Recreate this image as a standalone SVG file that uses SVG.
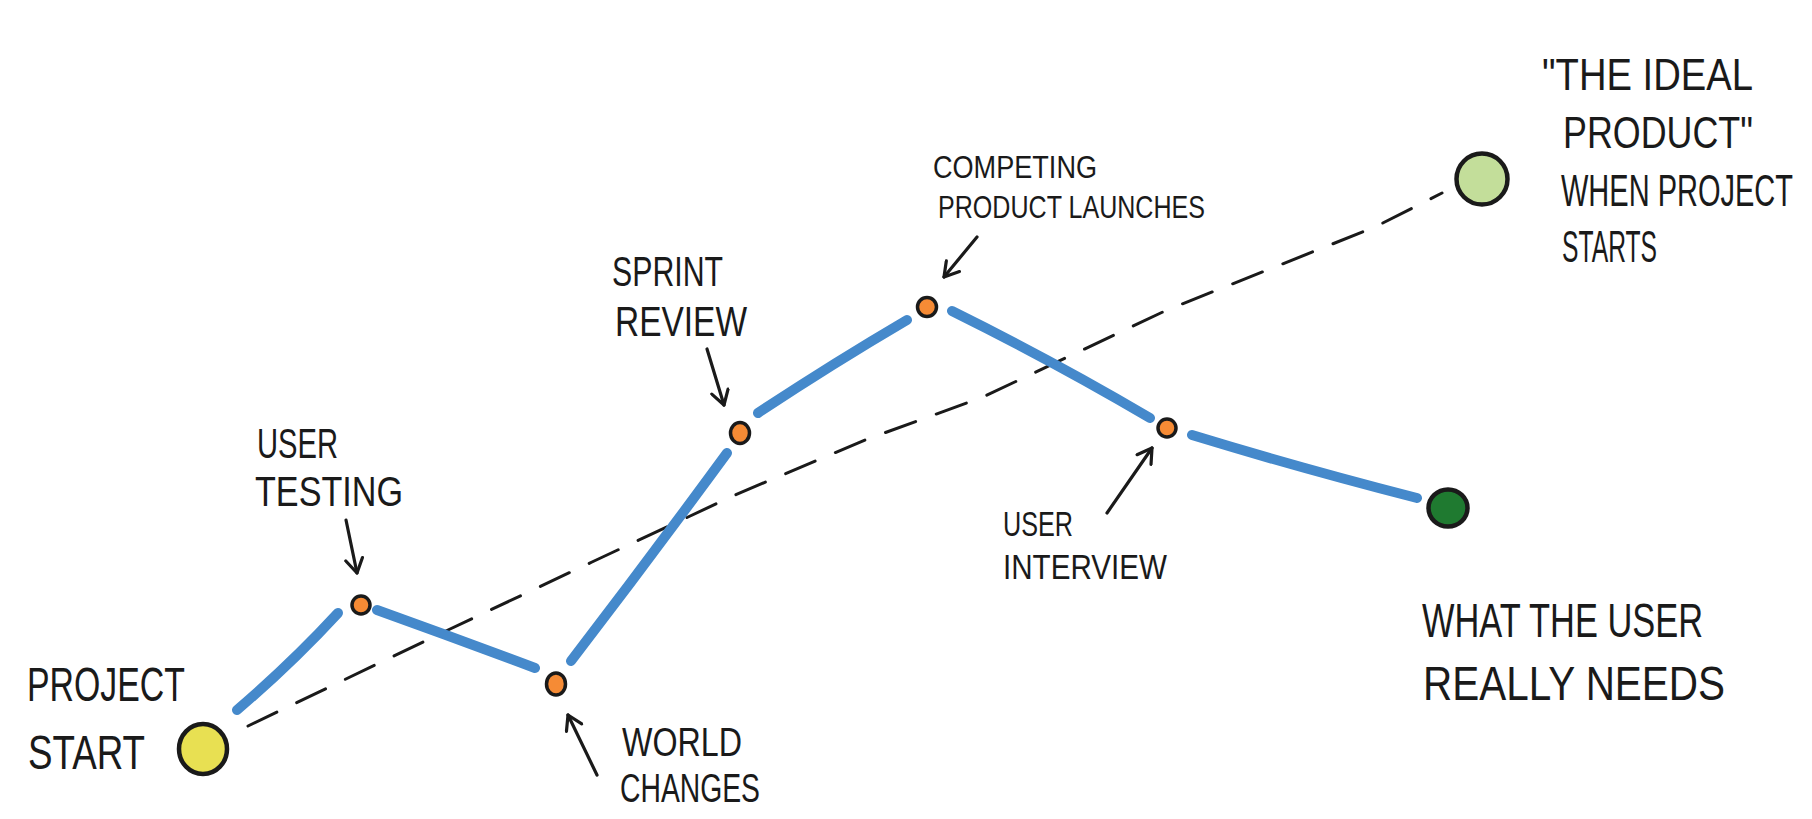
<svg xmlns="http://www.w3.org/2000/svg" width="1812" height="819" viewBox="0 0 1812 819">
  <defs>
    <style>
      .lbl { font-family: "Liberation Sans", Arial, sans-serif; fill: #1a1a1a; }
      .blue { fill: none; stroke: #4589cb; stroke-width: 10; stroke-linecap: round; stroke-linejoin: round; }
      .dash { fill: none; stroke: #1a1a1a; stroke-width: 3; stroke-linecap: round; stroke-dasharray: 32 22; }
      .arrow { fill: none; stroke: #1a1a1a; stroke-width: 3.2; stroke-linecap: round; marker-end: url(#head); }
      .dot { fill: #f68b35; stroke: #1a1a1a; stroke-width: 3.5; }
      .big { stroke: #1a1a1a; stroke-width: 4.5; }
    </style>
    <marker id="head" viewBox="0 0 20 20" refX="17" refY="10" markerWidth="20" markerHeight="20" markerUnits="userSpaceOnUse" orient="auto">
      <path d="M3,1.5 L17,10 L3,18.5" fill="none" stroke="#1a1a1a" stroke-width="3.2" stroke-linecap="round" stroke-linejoin="round"/>
    </marker>
  </defs>
  <rect width="1812" height="819" fill="#ffffff"/>

  <g id="connectors">
    <path class="dash" d="M248,726 L448,630 L592,562 L735,495 L865,440 L983,397 L1167,310 L1375,227 L1442,193"/>
    <path class="blue" d="M237,710 Q292,663 338,613"/>
    <path class="blue" d="M377,610 Q455,638 535,668"/>
    <path class="blue" d="M571,661 Q650,558 727,453"/>
    <path class="blue" d="M758,413 Q832,364 907,320"/>
    <path class="blue" d="M952,311 Q1055,362 1150,418"/>
    <path class="blue" d="M1192,435 Q1300,468 1417,498"/>
    <path class="arrow" d="M346,520 L357,573"/>
    <path class="arrow" d="M597,775 L568,715"/>
    <path class="arrow" d="M707,349 L724,405"/>
    <path class="arrow" d="M977,237 L944,277"/>
    <path class="arrow" d="M1107,513 L1152,448"/>
  </g>

  <g id="node-start">
    <ellipse class="big" cx="203" cy="749" rx="24" ry="25" fill="#e8e052"/>
    <text class="lbl" x="27" y="701" font-size="48" textLength="158" lengthAdjust="spacingAndGlyphs">PROJECT</text>
    <text class="lbl" x="28" y="769" font-size="48" textLength="117" lengthAdjust="spacingAndGlyphs">START</text>
  </g>

  <g id="node-user-testing">
    <circle class="dot" cx="361" cy="605" r="9"/>
    <text class="lbl" x="257" y="458" font-size="42" textLength="81" lengthAdjust="spacingAndGlyphs">USER</text>
    <text class="lbl" x="255" y="506" font-size="42" textLength="148" lengthAdjust="spacingAndGlyphs">TESTING</text>
  </g>

  <g id="node-world-changes">
    <ellipse class="dot" cx="556" cy="684" rx="9.5" ry="11"/>
    <text class="lbl" x="622" y="756" font-size="40" textLength="120" lengthAdjust="spacingAndGlyphs">WORLD</text>
    <text class="lbl" x="620" y="802" font-size="40" textLength="140" lengthAdjust="spacingAndGlyphs">CHANGES</text>
  </g>

  <g id="node-sprint-review">
    <ellipse class="dot" cx="740" cy="433" rx="9.5" ry="10.5"/>
    <text class="lbl" x="612" y="286" font-size="42" textLength="111" lengthAdjust="spacingAndGlyphs">SPRINT</text>
    <text class="lbl" x="615" y="336" font-size="42" textLength="132" lengthAdjust="spacingAndGlyphs">REVIEW</text>
  </g>

  <g id="node-competing">
    <circle class="dot" cx="927" cy="307" r="9.5"/>
    <text class="lbl" x="933" y="178" font-size="32" textLength="164" lengthAdjust="spacingAndGlyphs">COMPETING</text>
    <text class="lbl" x="938" y="218" font-size="32" textLength="267" lengthAdjust="spacingAndGlyphs">PRODUCT LAUNCHES</text>
  </g>

  <g id="node-user-interview">
    <circle class="dot" cx="1167" cy="428" r="9"/>
    <text class="lbl" x="1003" y="536" font-size="35" textLength="70" lengthAdjust="spacingAndGlyphs">USER</text>
    <text class="lbl" x="1003" y="579" font-size="35" textLength="164" lengthAdjust="spacingAndGlyphs">INTERVIEW</text>
  </g>

  <g id="node-user-needs">
    <ellipse class="big" cx="1448" cy="508" rx="19.5" ry="18.5" fill="#1f7a30"/>
    <text class="lbl" x="1422" y="637" font-size="48" textLength="281" lengthAdjust="spacingAndGlyphs">WHAT THE USER</text>
    <text class="lbl" x="1423" y="700" font-size="48" textLength="302" lengthAdjust="spacingAndGlyphs">REALLY NEEDS</text>
  </g>

  <g id="node-ideal">
    <circle class="big" cx="1482" cy="179" r="25.5" fill="#c3de9a"/>
    <text class="lbl" x="1542" y="90" font-size="44" textLength="211" lengthAdjust="spacingAndGlyphs">"THE IDEAL</text>
    <text class="lbl" x="1563" y="148" font-size="44" textLength="190" lengthAdjust="spacingAndGlyphs">PRODUCT"</text>
    <text class="lbl" x="0" y="0" font-size="29" transform="translate(1561,206) scale(1,1.5)" textLength="232" lengthAdjust="spacingAndGlyphs">WHEN PROJECT</text>
    <text class="lbl" x="1562" y="262" font-size="44" textLength="95" lengthAdjust="spacingAndGlyphs">STARTS</text>
  </g>
</svg>
